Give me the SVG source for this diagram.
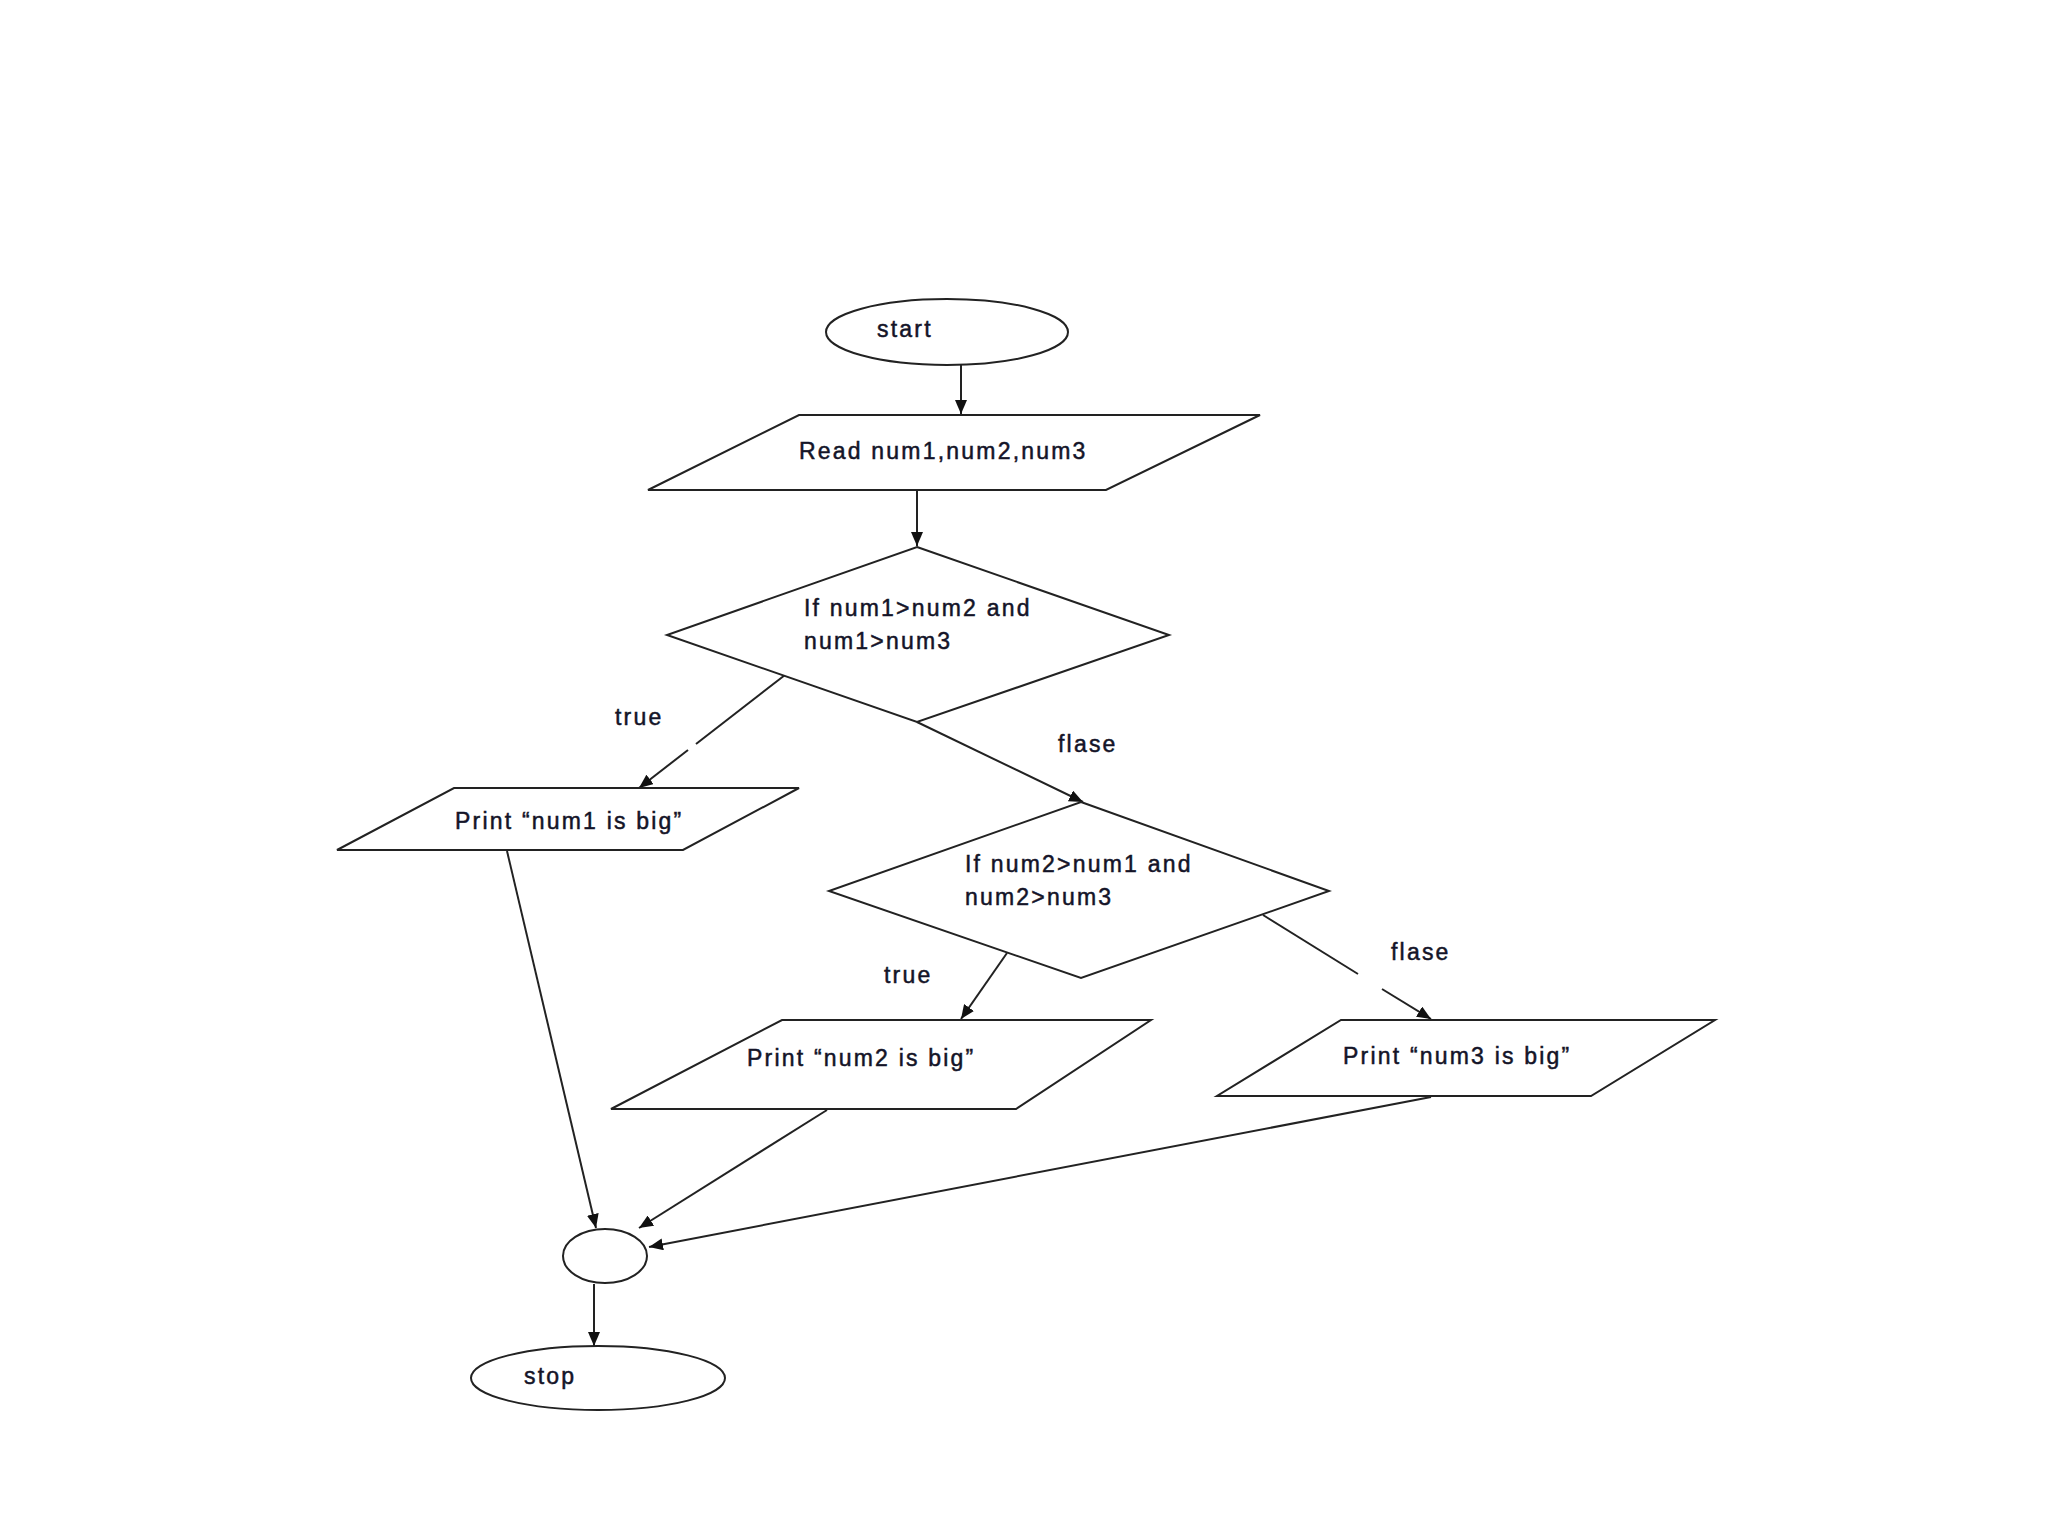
<svg xmlns="http://www.w3.org/2000/svg" width="2048" height="1536" viewBox="0 0 2048 1536">
<defs>
<style>
.shape{fill:#fff;stroke:#222;stroke-width:2}
.conn{stroke:#222;stroke-width:2;fill:none}
.t{font-family:"Liberation Sans",Arial,sans-serif;font-size:23px;fill:#141428;stroke:#141428;stroke-width:0.5;letter-spacing:2.2px}
</style>
<marker id="arr" markerUnits="userSpaceOnUse" markerWidth="16" markerHeight="12" refX="14" refY="6" orient="auto">
<path d="M0,0 L14,6 L0,12 Z" fill="#111"/>
</marker>
</defs>
<rect width="2048" height="1536" fill="#fff"/>
<g id="connectors">
<line class="conn" x1="961" y1="364" x2="961" y2="414" marker-end="url(#arr)"/>
<line class="conn" x1="917" y1="490" x2="917" y2="546" marker-end="url(#arr)"/>
<line class="conn" x1="785" y1="675" x2="696" y2="744"/>
<line class="conn" x1="688" y1="750" x2="639" y2="788" marker-end="url(#arr)"/>
<line class="conn" x1="917" y1="722" x2="1083" y2="802" marker-end="url(#arr)"/>
<line class="conn" x1="1007" y1="953" x2="961" y2="1019" marker-end="url(#arr)"/>
<line class="conn" x1="1263" y1="915" x2="1358" y2="974"/>
<line class="conn" x1="1382" y1="989" x2="1431" y2="1019" marker-end="url(#arr)"/>
<line class="conn" x1="507" y1="851" x2="596" y2="1228" marker-end="url(#arr)"/>
<line class="conn" x1="827" y1="1110" x2="639" y2="1228" marker-end="url(#arr)"/>
<line class="conn" x1="1431" y1="1097" x2="649" y2="1247" marker-end="url(#arr)"/>
<line class="conn" x1="594" y1="1284" x2="594" y2="1346" marker-end="url(#arr)"/>
<text class="t" x="615" y="725">true</text>
<text class="t" x="1058" y="752">flase</text>
<text class="t" x="884" y="983">true</text>
<text class="t" x="1391" y="960">flase</text>
</g>
<g id="start">
<ellipse class="shape" cx="947" cy="332" rx="121" ry="33"/>
<text class="t" x="877" y="337">start</text>
</g>
<g id="read">
<polygon class="shape" points="799,415 1260,415 1106,490 648,490"/>
<text class="t" x="799" y="459">Read num1,num2,num3</text>
</g>
<g id="cond1">
<polygon class="shape" points="917,547 1169,635 917,722 667,635"/>
<text class="t" x="804" y="616">If num1&gt;num2 and</text>
<text class="t" x="804" y="649">num1&gt;num3</text>
</g>
<g id="print1">
<polygon class="shape" points="454,788 799,788 683,850 337,850"/>
<text class="t" x="455" y="829">Print “num1 is big”</text>
</g>
<g id="cond2">
<polygon class="shape" points="1081,802 1329,891 1081,978 829,891"/>
<text class="t" x="965" y="872">If num2&gt;num1 and</text>
<text class="t" x="965" y="905">num2&gt;num3</text>
</g>
<g id="print2">
<polygon class="shape" points="782,1020 1151,1020 1016,1109 611,1109"/>
<text class="t" x="747" y="1066">Print “num2 is big”</text>
</g>
<g id="print3">
<polygon class="shape" points="1341,1020 1715,1020 1591,1096 1217,1096"/>
<text class="t" x="1343" y="1064">Print “num3 is big”</text>
</g>
<g id="join">
<ellipse class="shape" cx="605" cy="1256" rx="42" ry="27"/>
</g>
<g id="stop">
<ellipse class="shape" cx="598" cy="1378" rx="127" ry="32"/>
<text class="t" x="524" y="1384">stop</text>
</g>
</svg>
